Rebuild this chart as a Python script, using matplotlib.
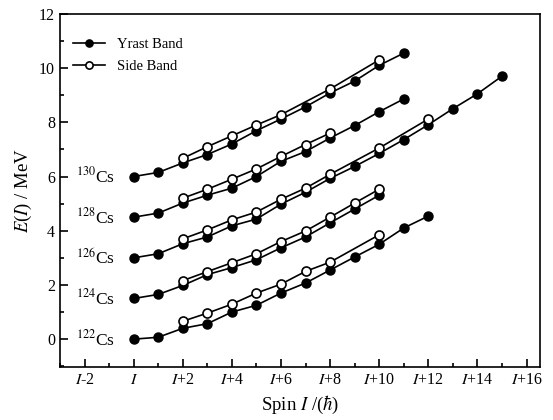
import matplotlib
matplotlib.use('Agg')
import matplotlib.pyplot as plt
from matplotlib.ticker import MultipleLocator

plt.rcParams['font.family'] = ['Liberation Serif', 'DejaVu Serif']
plt.rcParams['mathtext.fontset'] = 'stix'

# spin offset k from band head I, energies in MeV (offset per nucleus)
nuclei = ['122', '124', '126', '128', '130']

yrast_k = {
    '122': list(range(0, 13)),
    '124': list(range(0, 11)),
    '126': list(range(0, 16)),
    '128': list(range(0, 12)),
    '130': list(range(0, 12)),
}
yrast_e = {
    '122': [0.0, 0.07, 0.4, 0.57, 1.0, 1.25, 1.7, 2.07, 2.55, 3.03, 3.5, 4.1, 4.54],
    '124': [1.5, 1.65, 1.98, 2.38, 2.64, 2.93, 3.37, 3.77, 4.29, 4.8, 5.31],
    '126': [3.0, 3.15, 3.52, 3.77, 4.18, 4.43, 4.98, 5.42, 5.93, 6.37, 6.85, 7.36, 7.91, 8.5, 9.05, 9.7],
    '128': [4.5, 4.65, 5.02, 5.31, 5.57, 6.0, 6.56, 6.92, 7.42, 7.88, 8.39, 8.86],
    '130': [6.0, 6.15, 6.5, 6.81, 7.2, 7.69, 8.12, 8.57, 9.08, 9.52, 10.1, 10.55],
}

side_k = {
    '122': [2, 3, 4, 5, 6, 7, 8, 10],
    '124': [2, 3, 4, 5, 6, 7, 8, 9, 10],
    '126': [2, 3, 4, 5, 6, 7, 8, 10, 12],
    '128': [2, 3, 4, 5, 6, 7, 8],
    '130': [2, 3, 4, 5, 6, 8, 10],
}
side_e = {
    '122': [0.66, 0.96, 1.29, 1.7, 2.03, 2.5, 2.84, 3.85],
    '124': [2.16, 2.49, 2.82, 3.15, 3.6, 3.99, 4.5, 5.02, 5.53],
    '126': [3.7, 4.03, 4.4, 4.69, 5.16, 5.57, 6.08, 7.05, 8.12],
    '128': [5.2, 5.53, 5.9, 6.28, 6.74, 7.18, 7.6],
    '130': [6.67, 7.1, 7.5, 7.9, 8.28, 9.23, 10.3],
}

xtick_pos = list(range(-2, 17, 2))
xtick_labels = [r'$I$-2', r'$I$'] + [r'$I$+%d' % v for v in range(2, 17, 2)]

fig = plt.figure(figsize=(5.53, 4.2), dpi=100)
ax = fig.add_axes([0.1085, 0.126, 0.868, 0.841])

for i, n in enumerate(nuclei):
    ax.plot(yrast_k[n], yrast_e[n], '-o', color='black', lw=1.2, ms=6.5,
            mfc='black', mec='black', label='Yrast Band' if i == 0 else None, zorder=3)
    ax.plot(side_k[n], side_e[n], '-o', color='black', lw=1.2, ms=6.5,
            mfc='white', mec='black', mew=1.2, label='Side Band' if i == 0 else None, zorder=4)
    ax.text(-0.75, yrast_e[n][0], r'$^{%s}$Cs' % n, ha='right', va='center', fontsize=12.5)

ax.set_xlim(-3, 16.55)
ax.set_ylim(-1.03, 12)
ax.set_xticks(xtick_pos)
ax.set_xticklabels(xtick_labels)
ax.xaxis.set_minor_locator(MultipleLocator(1))
ax.yaxis.set_major_locator(MultipleLocator(2))
ax.yaxis.set_minor_locator(MultipleLocator(1))
ax.tick_params(which='both', direction='in', top=False, right=False, labelsize=11.5)
ax.tick_params(which='major', length=6, width=1.2)
ax.tick_params(which='minor', length=3, width=1.2)
for s in ax.spines.values():
    s.set_linewidth(1.2)

ax.set_xlabel(r'Spin $I$ /($\hbar$)', fontsize=13.5)
ax.set_ylabel(r'$E$($I$) / MeV', fontsize=13.5)

ax.legend(loc='upper left', frameon=False, fontsize=10.5, handlelength=2.2,
          bbox_to_anchor=(0.0, 0.97), borderaxespad=0.5, labelspacing=0.6,
          markerscale=0.8)

fig.savefig('out.png', dpi=100)
